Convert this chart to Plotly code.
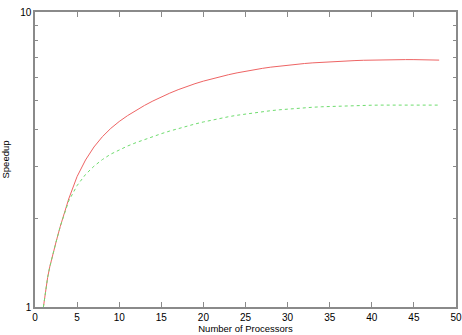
import plotly.graph_objects as go

n_processors = [1, 1.25, 1.5, 1.75, 2, 2.5, 3, 3.5, 4] + list(range(5, 49))
speedup_red = [1.000, 1.133, 1.259, 1.367, 1.466, 1.661, 1.875, 2.099, 2.323,
               2.769, 3.150, 3.486, 3.778, 4.031, 4.254,
               4.455, 4.643, 4.822, 4.992, 5.155, 5.308, 5.453, 5.588, 5.714, 5.831,
               5.939, 6.040, 6.132, 6.219, 6.300, 6.374, 6.441, 6.502, 6.557, 6.606,
               6.650, 6.689, 6.724, 6.754, 6.781, 6.804, 6.825, 6.844, 6.860, 6.873,
               6.884, 6.891, 6.896, 6.897, 6.896, 6.889, 6.881, 6.869]
speedup_green = [1.000, 1.133, 1.259, 1.367, 1.466, 1.661, 1.875, 2.083, 2.287,
                 2.581, 2.813, 3.001, 3.160, 3.298, 3.411,
                 3.514, 3.608, 3.698, 3.784, 3.868, 3.949, 4.026, 4.101, 4.172, 4.239,
                 4.303, 4.362, 4.417, 4.467, 4.513, 4.555, 4.594, 4.629, 4.661, 4.689,
                 4.714, 4.736, 4.755, 4.772, 4.786, 4.799, 4.809, 4.818, 4.825, 4.831,
                 4.835, 4.838, 4.840, 4.840, 4.840, 4.840, 4.838, 4.835]
x_ticks = [0, 5, 10, 15, 20, 25, 30, 35, 40, 45, 50]
y_ticks = [1, 10]
y_minor = [2, 3, 4, 5, 6, 7, 8, 9]

fig = go.Figure()
fig.add_trace(go.Scatter(x=n_processors, y=speedup_red, mode="lines",
                         line=dict(color="rgb(238,100,100)", width=1)))
fig.add_trace(go.Scatter(x=n_processors, y=speedup_green, mode="lines",
                         line=dict(color="rgb(110,220,110)", width=1, dash="3px,3px")))

axis_common = dict(showline=True, linecolor="#8a8a8a", linewidth=1.5, mirror="ticks",
                   ticks="inside", tickcolor="#8a8a8a", tickwidth=1, showgrid=False,
                   zeroline=False, automargin=False,
                   tickfont=dict(size=10, color="black"))

fig.update_layout(
    width=462, height=335,
    margin=dict(l=35, r=6, t=12, b=28),
    paper_bgcolor="white", plot_bgcolor="white",
    showlegend=False,
    font=dict(family="Liberation Sans, Arial, sans-serif", size=10, color="black"),
    xaxis=dict(range=[0, 50], tickmode="array", tickvals=x_ticks, ticklen=5,
               title=dict(text="Number of Processors", font=dict(size=9.5), standoff=1),
               **axis_common),
    yaxis=dict(type="log", range=[0, 1], tickmode="array", tickvals=y_ticks, ticklen=5,
               minor=dict(tickmode="array", tickvals=y_minor, ticks="inside", ticklen=3,
                          tickcolor="#8a8a8a", showgrid=False),
               title=dict(text="Speedup", font=dict(size=9.5), standoff=10),
               **axis_common),
)
fig.write_html("out.html")
